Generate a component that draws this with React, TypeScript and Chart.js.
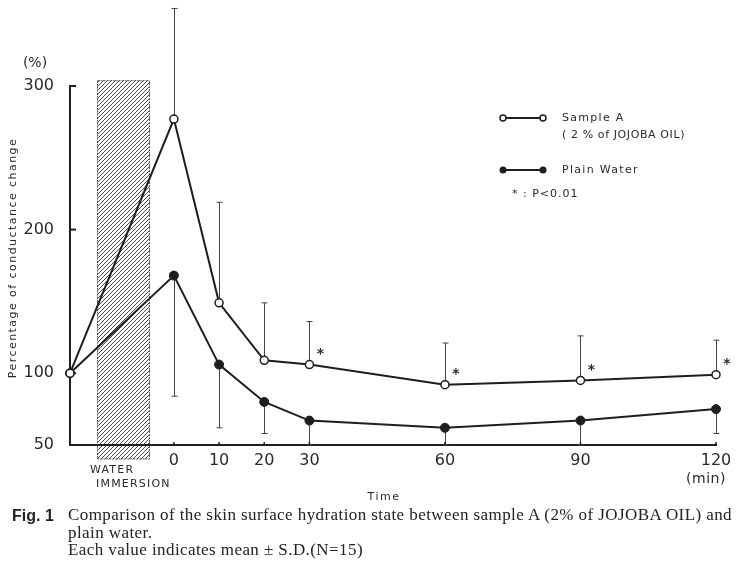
import React, { useEffect, useRef } from "react";
import { Chart, registerables } from "chart.js";

Chart.register(...registerables);

// ---- data ----
const times = [-23, 0, 10, 20, 30, 60, 90, 120]; // -23 = before immersion (baseline)
const sampleA = [100, 277, 149, 109, 106, 92, 95, 99];
const sampleASD = [0, 77, 70, 40, 30, 29, 31, 24];
const plainWater = [100, 168, 106, 80, 67, 62, 67, 75];
const plainWaterSD = [0, 84, 44, 22, 17, 12, 17, 17];
const significant = [false, false, false, false, true, true, true, true];
const xTicks = [0, 10, 20, 30, 60, 90, 120];
const yTicks = [50, 100, 200, 300];
const immersionStart = -17;
const immersionEnd = -5.3;
const immersionLow = 40;
const immersionHigh = 304;

const SANS = '"DejaVu Sans", "Liberation Sans", sans-serif';
const INK = "#1e1e1e";

function spacedText(ctx: CanvasRenderingContext2D, text: string, x: number, y: number, spacing: number) {
  (ctx as any).letterSpacing = spacing + "px";
  ctx.fillText(text, x, y);
  (ctx as any).letterSpacing = "0px";
}

function makeHatch(ctx: CanvasRenderingContext2D) {
  const c = document.createElement("canvas");
  c.width = 4;
  c.height = 4;
  const g = c.getContext("2d")!;
  g.fillStyle = "#ffffff";
  g.fillRect(0, 0, 4, 4);
  g.strokeStyle = "#4a4a4a";
  g.lineWidth = 1;
  g.beginPath();
  g.moveTo(0, 4);
  g.lineTo(4, 0);
  g.moveTo(-1, 1);
  g.lineTo(1, -1);
  g.moveTo(3, 5);
  g.lineTo(5, 3);
  g.stroke();
  return ctx.createPattern(c, "repeat");
}

const figPlugin = {
  id: "figPlugin",
  beforeDraw(chart: any) {
    const { ctx, scales } = chart;
    const x = scales.x, y = scales.y;
    const x0 = x.getPixelForValue(immersionStart);
    const x1 = x.getPixelForValue(immersionEnd);
    const yT = y.getPixelForValue(immersionHigh);
    const yB = y.getPixelForValue(immersionLow);
    ctx.save();
    const pat = makeHatch(ctx);
    if (pat) ctx.fillStyle = pat;
    ctx.fillRect(x0, yT, x1 - x0, yB - yT);
    ctx.strokeStyle = "#555";
    ctx.lineWidth = 1;
    ctx.setLineDash([2, 1]);
    ctx.strokeRect(x0 + 0.5, yT + 0.5, x1 - x0 - 1, yB - yT - 1);
    ctx.restore();
  },
  beforeDatasetsDraw(chart: any) {
    const { ctx, scales } = chart;
    const x = scales.x, y = scales.y;
    ctx.save();
    ctx.strokeStyle = "#444";
    ctx.lineWidth = 1;
    const cap = 3;
    times.forEach((t, i) => {
      const px = Math.round(x.getPixelForValue(t)) + 0.5;
      if (sampleASD[i] > 0) {
        const p0 = y.getPixelForValue(sampleA[i]);
        const p1 = y.getPixelForValue(sampleA[i] + sampleASD[i]);
        ctx.beginPath();
        ctx.moveTo(px, p0);
        ctx.lineTo(px, p1);
        ctx.moveTo(px - cap, p1);
        ctx.lineTo(px + cap, p1);
        ctx.stroke();
      }
      if (plainWaterSD[i] > 0) {
        const p0 = y.getPixelForValue(plainWater[i]);
        const p1 = y.getPixelForValue(plainWater[i] - plainWaterSD[i]);
        ctx.beginPath();
        ctx.moveTo(px, p0);
        ctx.lineTo(px, p1);
        ctx.moveTo(px - cap, p1);
        ctx.lineTo(px + cap, p1);
        ctx.stroke();
      }
    });
    // inward tick marks
    ctx.strokeStyle = INK;
    ctx.lineWidth = 2;
    const left = chart.chartArea.left;
    yTicks.forEach((v) => {
      if (v === y.min) return;
      const py = y.getPixelForValue(v);
      ctx.beginPath();
      ctx.moveTo(left - 1, py);
      ctx.lineTo(left + 6, py);
      ctx.stroke();
    });
    const bottom = chart.chartArea.bottom;
    ctx.lineWidth = 1.5;
    xTicks.forEach((v) => {
      const px = x.getPixelForValue(v);
      ctx.beginPath();
      ctx.moveTo(px, bottom);
      ctx.lineTo(px, bottom - 3);
      ctx.stroke();
    });
    ctx.restore();
  },
  afterDatasetsDraw(chart: any) {
    const { ctx, scales } = chart;
    const x = scales.x, y = scales.y;
    ctx.save();
    ctx.fillStyle = "#2a2a2a";
    // significance asterisks
    ctx.font = `bold 14px ${SANS}`;
    ctx.textAlign = "center";
    ctx.textBaseline = "middle";
    times.forEach((t, i) => {
      if (!significant[i]) return;
      ctx.fillText("*", x.getPixelForValue(t) + 11, y.getPixelForValue(sampleA[i]) - 10);
    });

    // "(%)"
    ctx.font = `14px ${SANS}`;
    ctx.textAlign = "center";
    ctx.fillText("(%)", 35, 63);

    // y-axis title
    ctx.save();
    ctx.translate(13, 258);
    ctx.rotate(-Math.PI / 2);
    ctx.font = `11px ${SANS}`;
    ctx.textAlign = "center";
    ctx.textBaseline = "middle";
    spacedText(ctx, "Percentage of conductance change", 0, 0, 1.45);
    ctx.restore();

    // water immersion label
    ctx.font = `11px ${SANS}`;
    ctx.textAlign = "left";
    ctx.textBaseline = "middle";
    spacedText(ctx, "WATER", 90, 470, 1.2);
    spacedText(ctx, "IMMERSION", 96, 484, 1.2);

    // axis unit / title
    ctx.font = `14px ${SANS}`;
    ctx.textAlign = "center";
    spacedText(ctx, "(min)", 706, 479, 0.5);
    ctx.font = `11px ${SANS}`;
    spacedText(ctx, "Time", 384, 497, 1.5);

    // legend
    const lx0 = 503, lx1 = 543;
    ctx.strokeStyle = INK;
    ctx.lineWidth = 2;
    ctx.beginPath();
    ctx.moveTo(lx0, 118);
    ctx.lineTo(lx1, 118);
    ctx.moveTo(lx0, 170);
    ctx.lineTo(lx1, 170);
    ctx.stroke();
    ctx.lineWidth = 1.5;
    [lx0, lx1].forEach((cx) => {
      ctx.beginPath();
      ctx.arc(cx, 118, 3, 0, Math.PI * 2);
      ctx.fillStyle = "#fff";
      ctx.fill();
      ctx.stroke();
      ctx.beginPath();
      ctx.arc(cx, 170, 3.5, 0, Math.PI * 2);
      ctx.fillStyle = INK;
      ctx.fill();
    });
    ctx.fillStyle = "#2a2a2a";
    ctx.font = `11px ${SANS}`;
    ctx.textAlign = "left";
    ctx.textBaseline = "middle";
    spacedText(ctx, "Sample A", 562, 118, 1.3);
    spacedText(ctx, "( 2 % of JOJOBA OIL)", 562, 135, 0.6);
    spacedText(ctx, "Plain Water", 562, 170, 1.3);
    spacedText(ctx, "* : P<0.01", 512, 194, 1.0);
    ctx.restore();
  },
};

export default function App() {
  const ref = useRef<HTMLCanvasElement | null>(null);

  useEffect(() => {
    if (!ref.current) return;
    const chart = new Chart(ref.current, {
      type: "line",
      data: {
        datasets: [
          {
            label: "Sample A (2% of JOJOBA OIL)",
            data: times.map((t, i) => ({ x: t, y: sampleA[i] })),
            borderColor: INK,
            borderWidth: 2,
            pointRadius: 4,
            pointBackgroundColor: "#ffffff",
            pointBorderColor: INK,
            pointBorderWidth: 1.5,
            tension: 0,
            clip: false as any,
          },
          {
            label: "Plain Water",
            data: times.map((t, i) => ({ x: t, y: plainWater[i] })),
            borderColor: INK,
            borderWidth: 2,
            pointRadius: 4.5,
            pointBackgroundColor: INK,
            pointBorderColor: INK,
            pointBorderWidth: 1,
            tension: 0,
            clip: false as any,
          },
        ],
      },
      options: {
        responsive: false,
        animation: false,
        layout: { padding: { left: 0, top: 86, right: 24, bottom: 98 } },
        plugins: { legend: { display: false }, tooltip: { enabled: false } },
        scales: {
          x: {
            type: "linear",
            min: -23,
            max: 120,
            afterBuildTicks: (s: any) => {
              s.ticks = xTicks.map((v) => ({ value: v }));
            },
            afterFit: (s: any) => {
              s.height = 30;
            },
            grid: { display: false, drawTicks: false },
            border: { display: true, color: INK, width: 2 },
            ticks: {
              padding: 6,
              autoSkip: false,
              maxRotation: 0,
              color: "#2a2a2a",
              font: { family: SANS, size: 16 },
            },
          },
          y: {
            type: "linear",
            min: 50,
            max: 300,
            afterBuildTicks: (s: any) => {
              s.ticks = yTicks.map((v) => ({ value: v }));
            },
            afterFit: (s: any) => {
              s.width = 70;
            },
            grid: { display: false, drawTicks: false },
            border: { display: true, color: INK, width: 2 },
            ticks: {
              padding: 16,
              color: "#2a2a2a",
              font: { family: SANS, size: 16 },
            },
          },
        },
      },
      plugins: [figPlugin],
    });
    return () => chart.destroy();
  }, []);

  const serif = '"Liberation Serif", "Times New Roman", serif';
  const lineStyle: React.CSSProperties = {
    position: "absolute",
    left: 68,
    fontFamily: serif,
    fontSize: 17,
    lineHeight: "20px",
    letterSpacing: "0.42px",
    whiteSpace: "nowrap",
    color: "#222",
  };

  return (
    <div style={{ position: "fixed", left: 0, top: 0, width: 740, height: 573, background: "#fff", overflow: "hidden" }}>
      <canvas ref={ref} width={740} height={573} style={{ position: "absolute", left: 0, top: 0 }} />
      <div
        style={{
          position: "absolute",
          left: 12,
          top: 506,
          fontFamily: '"Liberation Sans", Arial, sans-serif',
          fontWeight: "bold",
          fontSize: 16,
          lineHeight: "20px",
          color: "#222",
          whiteSpace: "nowrap",
        }}
      >
        Fig. 1
      </div>
      <div style={{ ...lineStyle, top: 505 }}>
        Comparison of the skin surface hydration state between sample A (2% of JOJOBA OIL) and
      </div>
      <div style={{ ...lineStyle, top: 523 }}>plain water.</div>
      <div style={{ ...lineStyle, top: 540 }}>Each value indicates mean ± S.D.(N=15)</div>
    </div>
  );
}
